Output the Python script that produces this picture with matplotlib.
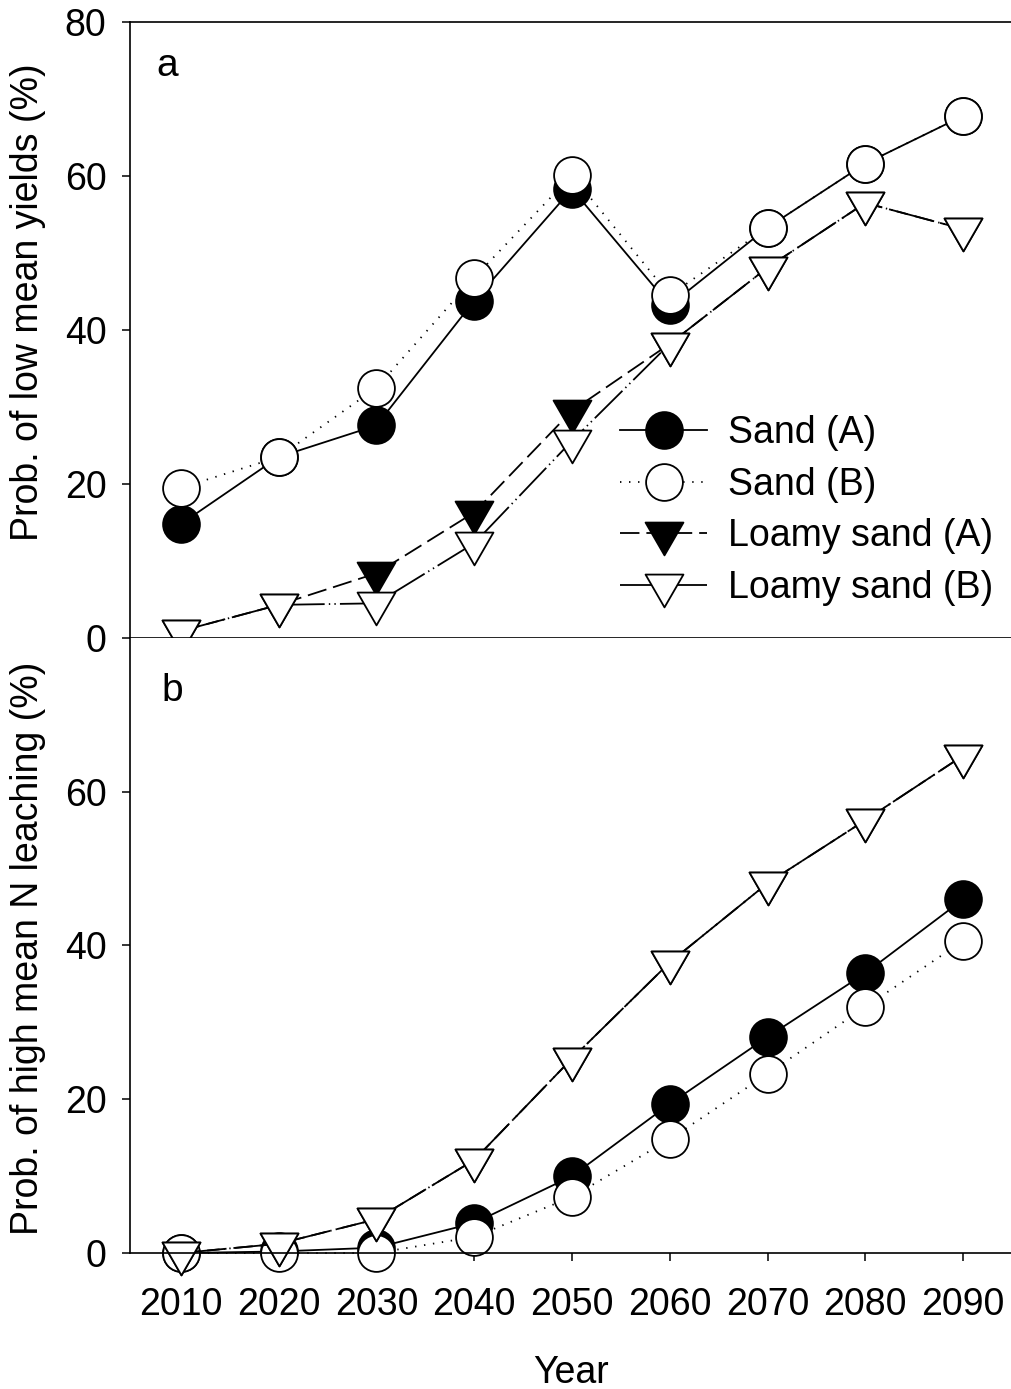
import numpy as np
import matplotlib
matplotlib.use('Agg')
import matplotlib.pyplot as plt
from matplotlib.path import Path

plt.rcParams['font.family'] = ['Liberation Sans', 'DejaVu Sans']
plt.rcParams['lines.scale_dashes'] = False

# Data
years = [2010, 2020, 2030, 2040, 2050, 2060, 2070, 2080, 2090]

# panel a: probability of low mean yields (%)
yield_sand_a = [14.8, 23.5, 27.6, 43.8, 58.3, 43.2, 53.3, 61.6, 67.8]
yield_sand_b = [19.5, 23.5, 32.5, 46.8, 60.1, 44.5, 53.3, 61.6, 67.8]
yield_loamy_a = [0.9, 4.3, 8.4, 16.3, 29.5, 38.2, 48.1, 56.5, 53.1]
yield_loamy_b = [0.9, 4.3, 4.5, 12.3, 25.6, 38.2, 48.1, 56.5, 53.1]

# panel b: probability of high mean N leaching (%)
leach_sand_a = [0.0, 0.2, 0.7, 3.9, 10.0, 19.4, 28.1, 36.4, 46.0]
leach_sand_b = [0.0, 0.0, 0.0, 2.1, 7.3, 14.8, 23.3, 32.0, 40.6]
leach_loamy_a = [0.0, 1.2, 4.4, 12.1, 25.3, 37.8, 48.1, 56.3, 64.7]
leach_loamy_b = [0.0, 1.2, 4.4, 12.1, 25.3, 37.8, 48.1, 56.3, 64.7]

labels = ['Sand (A)', 'Sand (B)', 'Loamy sand (A)', 'Loamy sand (B)']

# closed triangle pointing down, centred on its centroid
tri = Path([(-1, 0.577), (1, 0.577), (0, -1.155), (-1, 0.577)], closed=True)

styles = [
    dict(marker='o', ms=26.5, mfc='black', mec='black', ls='-'),
    dict(marker='o', ms=26.5, mfc='white', mec='black', dashes=(1, 5.5)),
    dict(marker=tri, ms=31.5, mfc='black', mec='black', dashes=(14, 5)),
    dict(marker=tri, ms=31.5, mfc='white', mec='black', dashes=(28, 3, 1, 3, 1, 3)),
]

FS = 27

fig = plt.figure(figsize=(10.12, 13.89), dpi=100)
ax1 = fig.add_axes([0.1285, 0.5407, 0.8715, 0.4435])
ax2 = fig.add_axes([0.1285, 0.0979, 0.8715, 0.4428])

handles = []
for ax, series in [(ax1, [yield_sand_a, yield_sand_b, yield_loamy_a, yield_loamy_b]),
                   (ax2, [leach_sand_a, leach_sand_b, leach_loamy_a, leach_loamy_b])]:
    hs = []
    for vals, st, lab in zip(series, styles, labels):
        h, = ax.plot(years, vals, color='black', lw=1.3, mew=1.3, label=lab,
                     clip_on=False, **st)
        hs.append(h)
    if ax is ax1:
        handles = hs
    ax.set_xlim(2004.8, 2095.0)
    ax.set_ylim(0, 80)
    ax.spines['right'].set_visible(False)
    for s in ax.spines.values():
        s.set_linewidth(1.2)
    ax.tick_params(direction='out', length=6, width=1.1, labelsize=FS)
    ax.tick_params(axis='y', pad=11)
    ax.tick_params(axis='x', pad=18.5)
    ax.set_xticks(years)

ax1.set_yticks([0, 20, 40, 60, 80])
ax1.set_xticklabels([])
ax2.set_yticks([0, 20, 40, 60])
ax2.spines['top'].set_visible(False)

ax1.set_ylabel('Prob. of low mean yields (%)', fontsize=FS)
ax1.yaxis.set_label_coords(-0.095, 0.545)
ax2.set_ylabel('Prob. of high mean N leaching (%)', fontsize=FS)
ax2.yaxis.set_label_coords(-0.095, 0.495)
ax2.set_xlabel('Year', fontsize=FS)
ax2.xaxis.set_label_coords(0.5, -0.165)

fig.text(167 / 1012, 1 - 66 / 1389, 'a', fontsize=28, ha='center', va='center')
fig.text(172 / 1012, 1 - 691 / 1389, 'b', fontsize=28, ha='center', va='center')

leg = ax1.legend(handles=handles, loc='upper left', bbox_to_anchor=(0.556, 0.362),
                 frameon=False, fontsize=FS, handlelength=2.3, handletextpad=0.58,
                 labelspacing=0.42, borderpad=0, borderaxespad=0)

fig.savefig('out.png', dpi=100)
